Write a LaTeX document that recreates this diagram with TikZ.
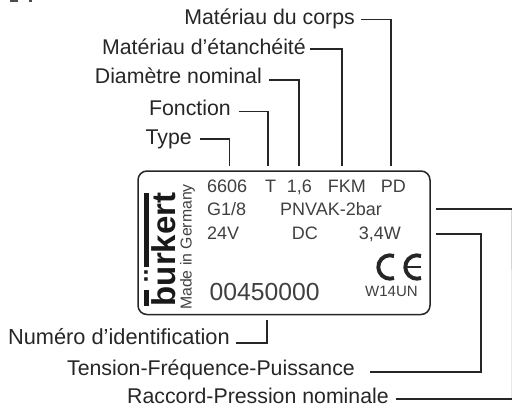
\documentclass[tikz,border=0pt]{standalone}
\usepackage{fontspec}
\setmainfont{Liberation Sans}
\tikzset{
 lab/.style={inner sep=0pt,anchor=base east,text=black!85,font=\fontsize{21.3}{24}\selectfont},
 plate/.style={inner sep=0pt,anchor=base west,text=black!75,font=\fontsize{18}{20}\selectfont},
 lead/.style={line width=1.9pt,black!85},
 thinlead/.style={line width=0.6pt,black!25},
 cemark/.style={line width=3.9pt,black!85},
}
\begin{document}
\begin{tikzpicture}[x=1pt,y=-1pt]
\useasboundingbox (0,0) rectangle (512,408);
\fill[black!70] (10,0) rectangle (18,1.5);
\fill[black!70] (29,0) rectangle (32,1.5);
\draw[line width=1.5pt,black!85,rounded corners=9pt] (138,171) rectangle (430,314.5);
% labels
\node[lab] (corps) at (355,24) {Matériau du corps};
\node[lab] (etan) at (306,54) {Matériau d’étanchéité};
\node[lab] (diam) at (262,83.5) {Diamètre nominal};
\node[lab] (fonc) at (231,115) {Fonction};
\node[lab] (type) at (192,144) {Type};
\node[lab,font=\fontsize{21.8}{24}\selectfont] (ident) at (230,344.5) {Numéro d’identification};
\node[lab] (tens) at (355,375.7) {Tension-Fréquence-Puissance};
\node[lab] (racc) at (389,403.5) {Raccord-Pression nominale};
% lead ends
\coordinate (c1) at (391,165.5); \coordinate (c2) at (342,165.5); \coordinate (c3) at (299,165.5);
\coordinate (c4) at (268,165.5); \coordinate (c5) at (229.5,165.5); \coordinate (c6) at (267,320);
\coordinate (c7) at (436,234); \coordinate (c8) at (436,209);
\draw[lead] (361,19.5) -| (c1);
\draw[lead] (310,49) -| (c2);
\draw[lead] (269,79.7) -| (c3);
\draw[lead] (239,111.5) -| (c4);
\draw[lead] (200,139.3) -| (c5);
\draw[lead] (236,342.7) -| (c6);
\draw[lead] (370,372.3) -- (480.7,372.3) |- (c7);
\draw[thinlead] (512,399) -- (511.7,209);
\draw[lead,line width=1.5pt] (395.7,399) -- (512,399);
\draw[lead,line width=1.5pt] (c8) -- (512,209);
% plate text
\node[plate] (a1) at (207,192.7) {6606};
\node[plate] (a2) at (265,192.7) {T};
\node[plate] (a3) at (286.7,192.7) {1,6};
\node[plate] (a4) at (327.7,192.7) {FKM};
\node[plate] (a5) at (380.7,192.7) {PD};
\node[plate] (b1) at (207,215.7) {G1/8};
\node[plate] (b2) at (280,215.7) {PNVAK-2bar};
\node[plate] (c1t) at (207,239) {24V};
\node[plate] (c2t) at (291.7,239) {DC};
\node[plate] (c3t) at (358.7,239) {3,4W};
\node[plate,font=\fontsize{24.7}{26}\selectfont] (num) at (209.5,300) {00450000};
\node[plate,font=\fontsize{15}{16}\selectfont] (w) at (365,296.7) {W14UN};
\node[plate,rotate=90,font=\fontsize{15.8}{18}\selectfont] (made) at (191.5,310) {Made in Germany};
\node[inner sep=0pt,rotate=90,anchor=base west,text=black!90,font=\fontsize{33}{36}\bfseries\selectfont] (burk) at (175,306.5) {b\ooalign{u\cr\hfil\raisebox{7.5pt}{¨}\hfil\cr}rkert};
\fill[black!90] (144,193) rectangle (149,267);
\fill[black!90] (144,290) rectangle (149,306);
% CE
\draw[cemark] (394,256) arc (-70:-290:11.7);
\draw[cemark] (421,256) arc (-70:-290:11.7);
\draw[cemark,line width=2.8pt] (406,267) -- (421,267);
\end{tikzpicture}
\end{document}
